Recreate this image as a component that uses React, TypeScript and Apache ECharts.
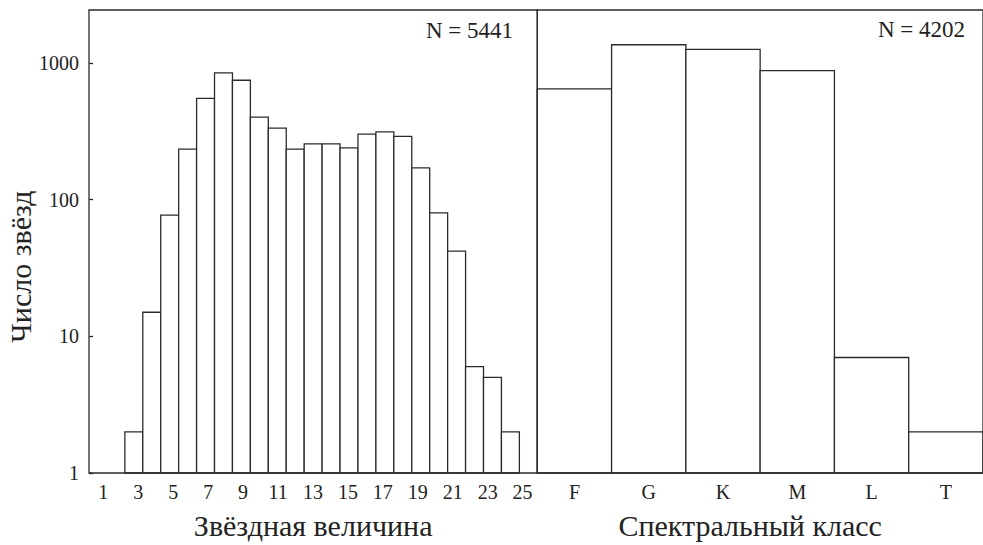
import React, { useEffect, useRef } from "react";
import * as echarts from "echarts";

// ---- data ----
const magnitudes = [3, 4, 5, 6, 7, 8, 9, 10, 11, 12, 13, 14, 15, 16, 17, 18, 19, 20, 21, 22, 23, 24];
const starCounts = [2, 15, 77, 234, 550, 846, 747, 402, 333, 234, 256, 256, 239, 301, 313, 290, 171, 80, 42, 6, 5, 2];
const magTickLabels = [1, 3, 5, 7, 9, 11, 13, 15, 17, 19, 21, 23, 25];
const spectralClasses = ["F", "G", "K", "M", "L", "T"];
const spectralCounts = [647, 1359, 1256, 879, 7, 2];
const leftN = "N = 5441";
const rightN = "N = 4202";
const yTitle = "Число звёзд";
const leftXTitle = "Звёздная величина";
const rightXTitle = "Спектральный класс";

const FONT = "'Liberation Serif', 'DejaVu Serif', serif";
const INK = "#2b2b2b";
const LW = 1.3;

export default function App() {
  const ref = useRef<HTMLDivElement>(null);

  useEffect(() => {
    if (!ref.current) return;
    const chart = echarts.init(ref.current, null, { renderer: "svg" });

    const top = 10;
    const height = 465.7;
    const leftL = 89;
    const leftW = 448.3;
    const rightL = 537.3;
    const rightW = 453.6;
    const yMax = 2440;

    const option: any = {
      animation: false,
      backgroundColor: "#ffffff",
      textStyle: { fontFamily: FONT },
      grid: [
        { left: leftL, top, width: leftW, height, show: true, borderColor: INK, borderWidth: LW, backgroundColor: "transparent", z: 10 },
        { left: rightL, top, width: rightW, height, show: true, borderColor: INK, borderWidth: LW, backgroundColor: "transparent", z: 10 },
      ],
      xAxis: [
        {
          gridIndex: 0, type: "value", min: 0, max: 25,
          axisLine: { show: false }, axisTick: { show: false }, axisLabel: { show: false }, splitLine: { show: false },
        },
        {
          gridIndex: 0, type: "value", min: 0.18, max: 25.84, position: "bottom",
          axisLine: { show: false }, axisTick: { show: false }, splitLine: { show: false },
          axisLabel: { customValues: magTickLabels, fontSize: 20, color: "#222", margin: 9, fontFamily: FONT },
          name: leftXTitle, nameLocation: "middle", nameGap: 37,
          nameTextStyle: { fontSize: 30, color: "#222", fontFamily: FONT },
        },
        {
          gridIndex: 1, type: "category", data: spectralClasses, boundaryGap: true,
          axisLine: { show: false }, axisTick: { show: false }, splitLine: { show: false },
          axisLabel: { fontSize: 20, color: "#222", margin: 9, fontFamily: FONT },
          name: rightXTitle, nameLocation: "middle", nameGap: 37,
          nameTextStyle: { fontSize: 30, color: "#222", fontFamily: FONT, padding: [0, 20, 0, 0] },
        },
      ],
      yAxis: [
        {
          gridIndex: 0, type: "log", logBase: 10, min: 1, max: yMax,
          axisLine: { show: false }, splitLine: { show: false }, minorTick: { show: false },
          axisTick: { show: true, inside: true, length: 4, lineStyle: { color: INK, width: LW } },
          axisLabel: {
            fontSize: 20, color: "#222", margin: 10, fontFamily: FONT, showMaxLabel: false,
            formatter: (v: number) => String(Math.round(v)),
          },
          name: yTitle, nameLocation: "middle", nameGap: 50,
          nameTextStyle: { fontSize: 30, color: "#222", fontFamily: FONT, padding: [0, 50, 0, 0] },
        },
        {
          gridIndex: 1, type: "log", logBase: 10, min: 1, max: yMax,
          axisLine: { show: false }, splitLine: { show: false }, axisTick: { show: false }, axisLabel: { show: false },
        },
      ],
      series: [
        {
          type: "custom", xAxisIndex: 0, yAxisIndex: 0,
          data: magnitudes.map((m, i) => [m, starCounts[i]]),
          renderItem: (params: any, api: any) => {
            const m = api.value(0);
            const v = api.value(1);
            const p1 = api.coord([m - 1, v]);
            const p2 = api.coord([m, 1]);
            return {
              type: "rect",
              shape: { x: p1[0], y: p1[1], width: p2[0] - p1[0], height: p2[1] - p1[1] },
              style: { fill: "#ffffff", stroke: INK, lineWidth: LW },
            };
          },
        },
        {
          type: "custom", xAxisIndex: 2, yAxisIndex: 1,
          data: spectralClasses.map((c, i) => [i, spectralCounts[i]]),
          renderItem: (params: any, api: any) => {
            const i = api.value(0);
            const v = api.value(1);
            const p = api.coord([i, v]);
            const b = api.coord([i, 1]);
            const w = api.size([1, 0])[0];
            return {
              type: "rect",
              shape: { x: p[0] - w / 2, y: p[1], width: w, height: b[1] - p[1] },
              style: { fill: "#ffffff", stroke: INK, lineWidth: LW },
            };
          },
        },
      ],
      graphic: [
        {
          type: "text", right: 983 - 513, top: 19, z: 20,
          style: { text: leftN, font: `23px ${FONT}`, fill: "#222" },
        },
        {
          type: "text", right: 983 - 965, top: 18, z: 20,
          style: { text: rightN, font: `23px ${FONT}`, fill: "#222" },
        },
      ],
    };

    chart.setOption(option);
    return () => chart.dispose();
  }, []);

  return (
    <div
      ref={ref}
      style={{ position: "absolute", left: 0, top: 0, width: 983, height: 545, background: "#fff" }}
    />
  );
}
